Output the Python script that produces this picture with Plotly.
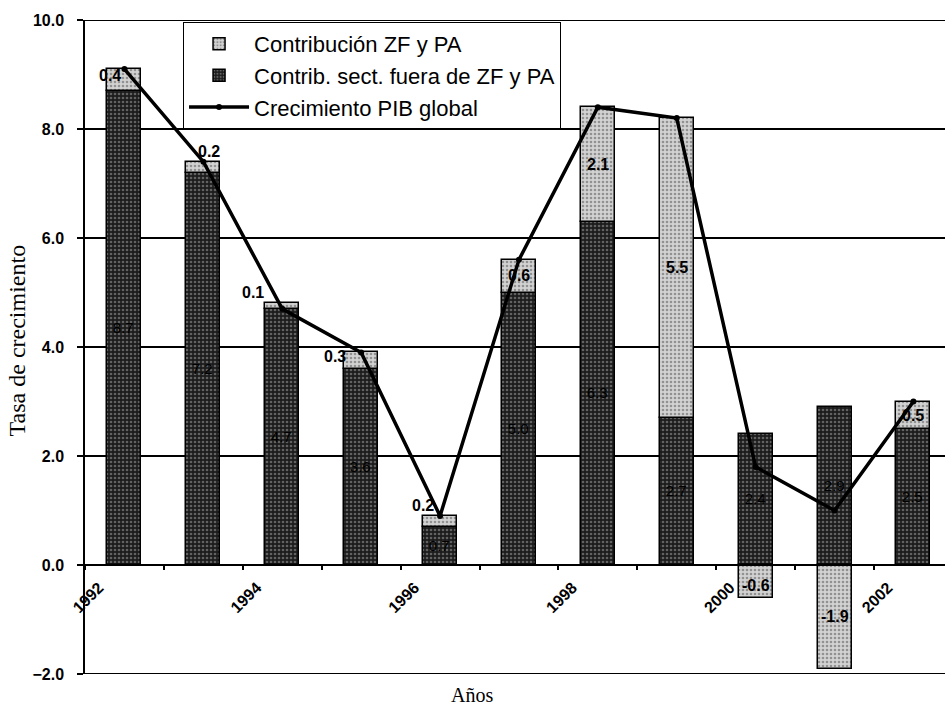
import plotly.graph_objects as go

# ---------------- data ----------------
years = [1992, 1993, 1994, 1995, 1996, 1997, 1998, 1999, 2000, 2001, 2002]
contrib_fuera = [8.7, 7.2, 4.7, 3.6, 0.7, 5.0, 6.3, 2.7, 2.4, 2.9, 2.5]
contrib_zf = [0.4, 0.2, 0.1, 0.3, 0.2, 0.6, 2.1, 5.5, -0.6, -1.9, 0.5]
pib_global = [9.1, 7.4, 4.7, 3.9, 0.9, 5.6, 8.4, 8.2, 1.8, 1.0, 3.0]
tick_years = [1992, 1993, 1994, 1995, 1996, 1997, 1998, 1999, 2000, 2001, 2002]
tick_labels = ["1992", "", "1994", "", "1996", "", "1998", "", "2000", "", "2002"]
y_min, y_max = -2, 10

# ---------------- style ----------------
FONT = "Arial, 'Liberation Sans', sans-serif"
SERIF = "'Times New Roman', 'Liberation Serif', serif"
zf_label_shift = [(-14, 4), (6, 16), (-29, 14), (-26, 4), (-17, 16),
                  (0, 1), (0, 0), (0, 0), (0, -4), (0, 0), (0, 0)]

xpos = [y + 0.5 for y in years]

fig = go.Figure()

fig.add_trace(go.Bar(
    x=xpos, y=contrib_fuera, name="Contrib. sect. fuera de ZF y PA",
    width=0.43, legendrank=2,
    marker=dict(color="#222222",
                line=dict(color="black", width=1.5),
                pattern=dict(shape=".", bgcolor="#1c1c1c", fgcolor="#a8a8a8",
                             size=4, solidity=0.35)),
    text=[f"{v:.1f}" for v in contrib_fuera], textposition="inside",
    insidetextanchor="middle", textangle=0, constraintext="none",
    textfont=dict(family=FONT, size=15, color="#000000"),
))

fig.add_trace(go.Bar(
    x=xpos, y=contrib_zf, name="Contribución ZF y PA",
    width=0.43, legendrank=1,
    marker=dict(color="#c8c8c8",
                line=dict(color="black", width=1.5),
                pattern=dict(shape=".", bgcolor="#d2d2d2", fgcolor="#505050",
                             size=4, solidity=0.35)),
    textposition="none",
))

fig.add_trace(go.Scatter(
    x=xpos, y=pib_global, name="Crecimiento PIB global", mode="lines+markers",
    legendrank=3,
    line=dict(color="black", width=3.5),
    marker=dict(color="black", size=6, symbol="circle"),
))

# ZF data labels
for xv, f, z, (dx, dy) in zip(xpos, contrib_fuera, contrib_zf, zf_label_shift):
    base = f if z >= 0 else 0
    fig.add_annotation(
        x=xv, y=base + z / 2, text=f"{z:.1f}", showarrow=False,
        xshift=dx, yshift=dy,
        font=dict(family=FONT, size=16, color="black", weight="bold"),
    )

# frame lines at the top and bottom of the value range
for yv in (y_min, y_max):
    fig.add_shape(type="line", xref="paper", yref="y", x0=0, x1=1, y0=yv, y1=yv,
                  line=dict(color="black", width=2), layer="below")

# axis titles as annotations
fig.add_annotation(x=0.45, y=-0.032, xref="paper", yref="paper", text="Años",
                   showarrow=False, xanchor="center", yanchor="middle",
                   font=dict(family=SERIF, size=20, color="black"))
fig.add_annotation(x=-0.078, y=0.51, xref="paper", yref="paper",
                   text="Tasa de crecimiento", showarrow=False, textangle=-90,
                   xanchor="center", yanchor="middle",
                   font=dict(family=SERIF, size=24, color="black"))

fig.update_layout(
    width=945, height=713,
    margin=dict(l=85, r=0, t=20, b=39, autoexpand=False),
    paper_bgcolor="white", plot_bgcolor="white",
    barmode="relative", bargap=0,
    showlegend=True,
    legend=dict(x=0.114, y=0.997, xanchor="left", yanchor="top",
                bgcolor="white", bordercolor="black", borderwidth=1,
                font=dict(family=FONT, size=22, color="black"),
                itemwidth=60, tracegroupgap=0),
    font=dict(family=FONT, color="black"),
)

fig.update_xaxes(
    range=[1992, 2002.9], anchor="free", position=1/6, automargin=False,
    tickmode="array", tickvals=tick_years, ticktext=tick_labels,
    tickangle=-45, ticks="outside", ticklen=4, tickwidth=2, tickcolor="black",
    tickfont=dict(family=FONT, size=16, color="black", weight="bold"),
    ticklabelshift=14, ticklabelstandoff=2,
    showline=True, linecolor="black", linewidth=2,
    showgrid=False, zeroline=False,
)

fig.update_yaxes(
    range=[y_min, y_max], dtick=2, tick0=0, tickformat=".1f", automargin=False,
    ticks="outside", ticklen=6, tickwidth=2, tickcolor="black",
    tickfont=dict(family=FONT, size=16, color="black", weight="bold"),
    ticklabelstandoff=10,
    showline=True, linecolor="black", linewidth=1.5,
    showgrid=True, gridcolor="black", gridwidth=2,
    zeroline=True, zerolinecolor="black", zerolinewidth=2,
)

fig.write_html("out.html", config={"displayModeBar": False},
               post_script="document.body.style.margin='0';document.body.style.overflow='hidden';")
